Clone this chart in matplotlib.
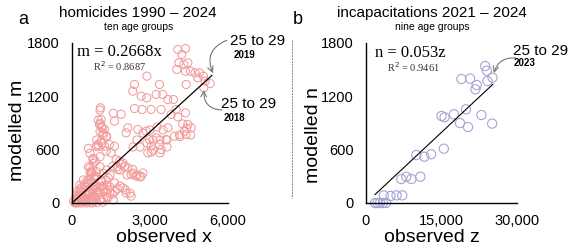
import matplotlib
matplotlib.use("Agg")
import matplotlib.pyplot as plt
import numpy as np

plt.rcParams['font.family'] = ['Liberation Sans', 'DejaVu Sans']

# homicides 1990 - 2024 (observed x, modelled m)
hom_x = [4070, 4365, 4224, 4109, 4301, 4455, 4365, 4032, 4557, 4737, 4903, 4839, 5057, 5121, 5314, 4391, 5070,
         2878, 3365, 2404, 2339, 2660, 2878, 3237, 3493, 3686, 3903, 2698, 3045, 3429, 3814, 4006, 4070, 4365,
         2404, 1891, 1096, 1634, 2147, 2532, 2852, 2083, 3237, 3686, 3621, 3942, 4134, 4455, 4583, 4327, 4391,
         4257, 4410, 4565, 4154, 2980, 3045, 3365, 3429, 2916, 3045,
         1121, 1057, 1160, 1250, 1186, 1314, 1121, 993, 929, 1250, 1442, 1634, 1314, 1506, 1698, 1827, 1891,
         2019, 2147, 2339, 2275, 2468, 2660, 1570, 1763, 801, 737, 865, 801, 1186, 1378, 1634, 1955, 2083, 2275,
         2346, 2500, 2615, 2730, 2115, 1846, 1730, 1961, 2346, 2615, 2884, 3115, 3384, 3115, 3384, 3653,
         3269, 3500, 3000, 2730, 2500, 3653, 1460, 1650, 1850, 2050, 2230, 1560, 1750,
         180, 308, 436, 564, 692, 821, 244, 372, 564, 756, 949, 1077, 1205, 1333, 308, 500, 628, 821, 949, 1077,
         436, 692, 949, 1141, 1333, 1462, 1590, 115, 205, 372, 564, 756, 949, 628, 821, 1077, 949, 1205, 1333,
         1462, 1077, 1013, 1141, 949, 1013, 1077, 1141, 1077, 1205, 1333, 1077, 1590, 628, 692, 821,
         120, 250, 390, 520, 660, 880, 1000, 160, 300, 450, 600, 700, 850, 1150, 1300, 1400, 690, 770, 740, 900,
         60, 140, 220, 330, 420, 480, 560, 640, 720, 800, 880, 960, 1040, 1120, 1240, 200, 350, 470, 580, 760,
         860, 990, 1100, 280, 400, 540, 660, 1180, 1280, 1380]
hom_m = [1727, 1738, 1671, 1577, 1558, 1577, 1483, 1502, 1483, 1464, 1464, 1408, 1427, 1371, 1344, 1333, 1296,
         1427, 1333, 1333, 1258, 1202, 1183, 1221, 1221, 1164, 1164, 1052, 1052, 1052, 996, 1052, 969, 1014,
         1063, 999, 1071, 921, 846, 827, 808, 789, 733, 846, 714, 752, 767, 883, 846, 808, 771,
         889, 840, 765, 746, 714, 639, 658, 602, 564, 572,
         939, 883, 846, 827, 789, 752, 696, 658, 639, 639, 658, 639, 583, 564, 489, 471, 433,
         414, 396, 377, 321, 302, 302, 414, 377, 489, 339, 302, 227, 189, 152, 227, 171, 114, 77,
         337, 315, 292, 337, 315, 371, 405, 450, 630, 630, 675, 709, 709, 596, 563, 630,
         855, 821, 821, 787, 709, 709, 180, 130, 190, 150, 110, 100, 160,
         34, 15, 34, 15, 34, 15, 71, 90, 109, 71, 90, 34, 52, 71, 146, 184, 221, 184, 146, 184,
         259, 259, 296, 240, 203, 109, 34, 0, 0, 0, 0, 0, 5, 409, 446, 409, 353, 334, 371,
         315, 521, 634, 671, 709, 934, 896, 859, 803, 765, 746, 1046, 1009, 615, 559, 503,
         10, 40, 60, 20, 120, 60, 130, 90, 200, 150, 260, 340, 280, 240, 260, 280, 394, 337, 360, 470,
         20, 50, 80, 110, 60, 30, 90, 140, 50, 110, 70, 190, 120, 40, 160, 130, 170, 210, 240, 230,
         310, 120, 250, 60, 20, 50, 100, 10, 130, 60]

# incapacitations 2021 - 2024 (observed z, modelled n)
inc_z = [23667, 24000, 24133, 25133, 18933, 20667, 22000, 21733, 19867, 17467, 15000, 15600, 18667, 20267,
         22933, 25067, 15467, 10000, 11600, 12933, 7000, 8000, 9000, 10800, 3533, 4867, 6067, 7200,
         1800, 2300, 2800, 3400, 4000]
inc_n = [1541, 1489, 1372, 1410, 1395, 1399, 1327, 1279, 1054, 998, 979, 964, 900, 855,
         990, 893, 611, 540, 521, 548, 270, 296, 270, 296, 86, 79, 86, 86,
         0, 0, 0, 0, 0]

hom_slope, hom_r2 = 0.2668, 0.8687
inc_slope, inc_r2 = 0.053, 0.9461

W, H = 571, 248
fig = plt.figure(figsize=(W / 100, H / 100), dpi=100)


def fx(px):
    return px / W


def fy(py):
    return 1 - py / H


def style_axes(ax, xmax, xticks, xlabels):
    ax.set_xlim(0, xmax)
    ax.set_ylim(0, 1800)
    ax.set_xticks(xticks)
    ax.set_xticklabels(xlabels)
    ax.set_yticks([0, 600, 1200, 1800])
    ax.spines['top'].set_visible(False)
    ax.spines['right'].set_visible(False)
    ax.spines['left'].set_linewidth(1.0)
    ax.spines['bottom'].set_linewidth(1.0)
    ax.tick_params(length=0, labelsize=10.5)
    ax.tick_params(axis='y', pad=9)
    ax.tick_params(axis='x', pad=8)
    ax.patch.set_visible(False)


# panel a
ax1 = fig.add_axes([fx(72), fy(203), fx(228) - fx(72), fy(43) - fy(203)])
ax1.scatter(hom_x, hom_m, s=34, facecolors='none', edgecolors='#f29c9c', linewidths=0.75,
            clip_on=False, zorder=2)
xs = np.array([min(hom_x), 5380])
ax1.plot(xs, hom_slope * xs, color='black', lw=0.9, zorder=3)
style_axes(ax1, 6000, [0, 3000, 6000], ['0', '3,000', '6,000'])

# panel b
ax2 = fig.add_axes([fx(366), fy(203), fx(517) - fx(366), fy(43) - fy(203)])
ax2.scatter(inc_z, inc_n, s=44, facecolors='none', edgecolors='#a4a4d6', linewidths=0.8,
            clip_on=False, zorder=2)
zs = np.array([min(inc_z), 25200])
ax2.plot(zs, inc_slope * zs, color='black', lw=0.8, zorder=3)
style_axes(ax2, 30000, [0, 15000, 30000], ['0', '15,000', '30,000'])

# titles and labels
fig.text(fx(23), fy(20), 'a', fontsize=13, ha='center', va='center')
fig.text(fx(298), fy(20), 'b', fontsize=13, ha='center', va='center')
fig.text(fx(138), fy(13), 'homicides 1990 \u2013 2024', fontsize=11, ha='center', va='center')
fig.text(fx(139), fy(27), 'ten age groups', fontsize=7.5, ha='center', va='center')
fig.text(fx(432), fy(13), 'incapacitations 2021 \u2013 2024', fontsize=11, ha='center', va='center')
fig.text(fx(432), fy(27), 'nine age groups', fontsize=7.5, ha='center', va='center')

fig.text(fx(164), fy(237), 'observed x', fontsize=14, ha='center', va='center')
fig.text(fx(432), fy(237), 'observed z', fontsize=14, ha='center', va='center')
fig.text(fx(18), fy(130), 'modelled m', fontsize=14, ha='center', va='center', rotation=90)
fig.text(fx(313), fy(135), 'modelled n', fontsize=14, ha='center', va='center', rotation=90)

# equations
serif = ['Liberation Serif', 'DejaVu Serif']
fig.text(fx(119), fy(52), f'm = {hom_slope}x', fontsize=12, family=serif, ha='center', va='center')
fig.text(fx(120), fy(66), f'R$^2$ = {hom_r2}', fontsize=7.5, family=serif, ha='center', va='center',
         color='#333333')
fig.text(fx(410), fy(53), f'n = {inc_slope}z', fontsize=12, family=serif, ha='center', va='center')
fig.text(fx(413), fy(67), f'R$^2$ = {inc_r2}', fontsize=7.5, family=serif, ha='center', va='center',
         color='#333333')

# callouts
fig.text(fx(258), fy(41), '25 to 29', fontsize=11, ha='center', va='center')
fig.text(fx(244), fy(55), '2019', fontsize=7, fontweight='bold', ha='center', va='center')
fig.text(fx(249), fy(104), '25 to 29', fontsize=11, ha='center', va='center')
fig.text(fx(234), fy(118), '2018', fontsize=7, fontweight='bold', ha='center', va='center')
fig.text(fx(541), fy(51), '25 to 29', fontsize=11, ha='center', va='center')
fig.text(fx(525), fy(63), '2023', fontsize=7, fontweight='bold', ha='center', va='center')

arrow = dict(arrowstyle='->', color='#777777', lw=0.8, shrinkA=0, shrinkB=0)
ax1.annotate('', xy=(5420, 1460), xytext=(5950, 1830), annotation_clip=False,
             arrowprops=dict(arrow, connectionstyle='arc3,rad=0.5'))
ax1.annotate('', xy=(5077, 1271), xytext=(5769, 1046), annotation_clip=False,
             arrowprops=dict(arrow, connectionstyle='arc3,rad=-0.5'))
ax2.annotate('', xy=(25400, 1462), xytext=(29800, 1631), annotation_clip=False,
             arrowprops=dict(arrow, connectionstyle='arc3,rad=0.4'))

# dashed divider
fig.add_artist(plt.Line2D([fx(292), fx(292)], [fy(40), fy(198)], color='#888888', lw=0.7,
                          linestyle=(0, (2, 1))))

fig.savefig('out.png', dpi=100)
